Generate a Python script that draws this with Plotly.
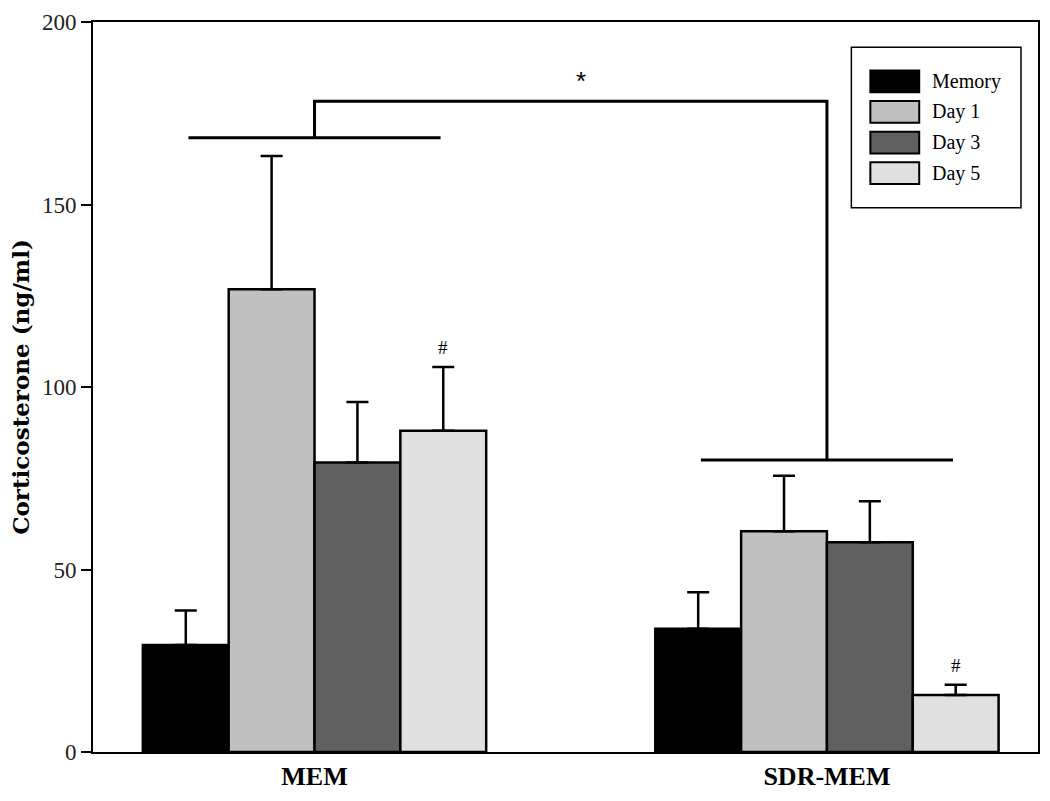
import plotly.graph_objects as go

groups = ["MEM", "SDR-MEM"]
series = ["Memory", "Day 1", "Day 3", "Day 5"]
colors = ["#000000", "#c0c0c0", "#606060", "#e0e0e0"]
means = {
    "Memory": [29.3, 33.8],
    "Day 1": [126.8, 60.5],
    "Day 3": [79.3, 57.5],
    "Day 5": [88.0, 15.6],
}
sem = {
    "Memory": [9.5, 10.0],
    "Day 1": [36.5, 15.2],
    "Day 3": [16.6, 11.2],
    "Day 5": [17.5, 2.8],
}
y_ticks = [0, 50, 100, 150, 200]
# significance brackets (data units)
group_bar_y = [168.3, 80.0]
bracket_top_y = 178.3
hash_marks = [("Day 5", 0), ("Day 5", 1)]

FONT = "Liberation Serif"
gx = list(range(len(groups)))
bargap = 0.33
w = (1 - bargap) / len(series)

fig = go.Figure()
for s, c in zip(series, colors):
    fig.add_trace(go.Bar(
        x=gx, y=means[s], name=s,
        marker=dict(color=c, line=dict(color="black", width=2.5)),
        error_y=dict(type="data", symmetric=False, array=sem[s],
                     arrayminus=[0] * len(gx), color="black",
                     thickness=2.5, width=11),
        showlegend=False,
    ))

shapes = []
annotations = []
half = 0.246
for g, yv in zip(gx, group_bar_y):
    shapes.append(dict(type="line", xref="x", yref="y", x0=g - half, x1=g + half,
                       y0=yv, y1=yv, line=dict(color="black", width=3)))
shapes.append(dict(type="path", xref="x", yref="y",
                   path=f"M {gx[0]},{group_bar_y[0]} L {gx[0]},{bracket_top_y} "
                        f"L {gx[1]},{bracket_top_y} L {gx[1]},{group_bar_y[1]}",
                   line=dict(color="black", width=3)))
annotations.append(dict(x=(gx[0] + gx[1]) / 2 + 0.02, y=bracket_top_y + 1.0, xref="x", yref="y",
                        text="*", showarrow=False, yanchor="bottom",
                        font=dict(family="Liberation Sans", size=26, color="black")))
for s, g in hash_marks:
    i = series.index(s)
    xc = g + (i - (len(series) - 1) / 2) * w
    annotations.append(dict(x=xc, y=means[s][g] + sem[s][g] + 2.0, xref="x", yref="y",
                            text="#", showarrow=False, yanchor="bottom",
                            font=dict(family=FONT, size=19, color="black")))

# custom legend
lx0, lx1, ly0, ly1 = 0.8025, 0.982, 0.7456, 0.9655
shapes.append(dict(type="rect", xref="paper", yref="paper", x0=lx0, x1=lx1, y0=ly0, y1=ly1,
                   line=dict(color="black", width=1.5), fillcolor="white"))
row_h = 31 / 739
first = (757 - 78) / 739
sw_h = 22 / 739
for i, (s, c) in enumerate(zip(series, colors)):
    yc = first - i * row_h
    shapes.append(dict(type="rect", xref="paper", yref="paper", x0=0.8226, x1=0.8743,
                       y0=yc - sw_h / 2, y1=yc + sw_h / 2, fillcolor=c,
                       line=dict(color="black", width=2)))
    annotations.append(dict(x=0.886, y=yc, xref="paper", yref="paper", text=s,
                            showarrow=False, xanchor="left", yanchor="middle",
                            font=dict(family=FONT, size=20, color="black")))

fig.update_layout(
    width=1050, height=801,
    margin=dict(l=93, r=10, t=18, b=44),
    barmode="group", bargap=bargap, bargroupgap=0,
    plot_bgcolor="white", paper_bgcolor="white",
    shapes=shapes, annotations=annotations,
    font=dict(family=FONT, color="black"),
    xaxis=dict(range=[-0.4323, 1.4119], tickvals=gx, ticktext=[f"<b>{g}</b>" for g in groups],
               showline=True, linecolor="black", linewidth=2, mirror=True, ticks="",
               showgrid=False, zeroline=False,
               tickfont=dict(family=FONT, size=26, color="black")),
    yaxis=dict(range=[0, 200], tickvals=y_ticks, showline=True, linecolor="black", linewidth=2,
               mirror=True, ticks="outside", ticklen=10, tickwidth=1.5, tickcolor="black",
               showgrid=False, zeroline=False, ticklabeloverflow="allow",
               tickfont=dict(family=FONT, size=23, color="#222"),
               title=dict(text="<b>Corticosterone (ng/ml)</b>", standoff=6,
                          font=dict(family="DejaVu Serif", size=23, color="black"))),
)
fig.write_html("out.html", config={"displayModeBar": False},
               post_script="document.body.style.margin='0';document.body.style.overflow='hidden';")
